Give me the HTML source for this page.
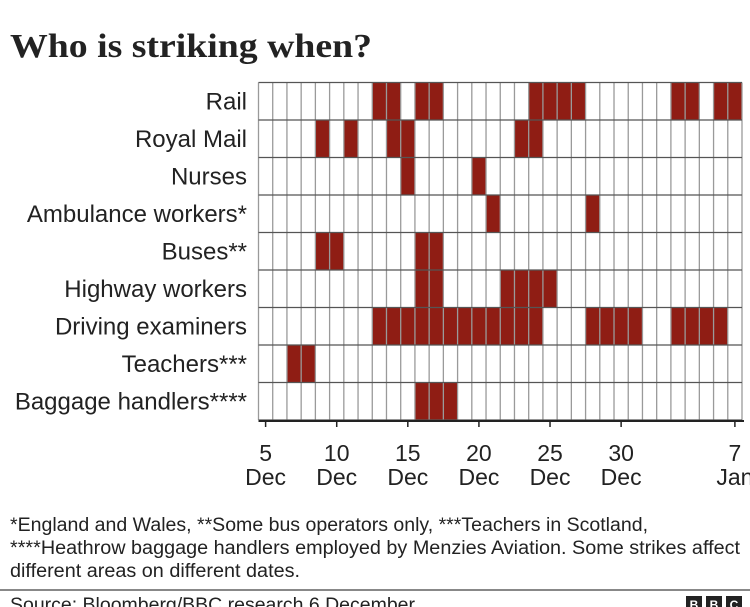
<!DOCTYPE html>
<html><head><meta charset="utf-8"><style>
html,body{margin:0;padding:0;background:#fff;width:750px;height:607px;overflow:hidden}
svg{display:block}
</style></head><body>
<svg id="chart" width="750" height="607" viewBox="0 0 750 607">
<text x="10" y="57" font-family="Liberation Serif, serif" font-weight="bold" font-size="34" fill="#222" textLength="362" lengthAdjust="spacingAndGlyphs">Who is striking when?</text>
<g id="labels"></g><g id="cells"></g><g id="grid"></g><g id="axis"></g>
<text x="10" y="531" font-family="Liberation Sans, sans-serif" font-size="19" fill="#222" textLength="638" lengthAdjust="spacingAndGlyphs">*England and Wales, **Some bus operators only, ***Teachers in Scotland,</text>
<text x="10" y="554" font-family="Liberation Sans, sans-serif" font-size="19" fill="#222" textLength="730" lengthAdjust="spacingAndGlyphs">****Heathrow baggage handlers employed by Menzies Aviation. Some strikes affect</text>
<text x="10" y="577" font-family="Liberation Sans, sans-serif" font-size="19" fill="#222" textLength="290" lengthAdjust="spacingAndGlyphs">different areas on different dates.</text>
<rect x="0" y="589" width="750" height="2" fill="#888"></rect>
<text x="10" y="611" font-family="Liberation Sans, sans-serif" font-size="19" fill="#222" textLength="405" lengthAdjust="spacingAndGlyphs">Source: Bloomberg/BBC research 6 December</text>
<g>
<rect x="686" y="596" width="16" height="16" fill="#222"/><rect x="706" y="596" width="16" height="16" fill="#222"/><rect x="726" y="596" width="16" height="16" fill="#222"/>
<text x="694" y="609" text-anchor="middle" font-family="Liberation Sans, sans-serif" font-weight="bold" font-size="12" fill="#fff">B</text>
<text x="714" y="609" text-anchor="middle" font-family="Liberation Sans, sans-serif" font-weight="bold" font-size="12" fill="#fff">B</text>
<text x="734" y="609" text-anchor="middle" font-family="Liberation Sans, sans-serif" font-weight="bold" font-size="12" fill="#fff">C</text>
</g>
</svg>
<script>
const categories = ["Rail","Royal Mail","Nurses","Ambulance workers*","Buses**","Highway workers","Driving examiners","Teachers***","Baggage handlers****"];
// strike days as day offsets from 5 Dec (0 = 5 Dec, 26 = 31 Dec, 27 = 1 Jan)
const rail = [8,9,11,12,19,20,21,22,29,30,32,33];
const royalMail = [4,6,9,10,18,19];
const nurses = [10,15];
const ambulance = [16,23];
const buses = [4,5,11,12];
const highway = [11,12,17,18,19,20];
const driving = [8,9,10,11,12,13,14,15,16,17,18,19,23,24,25,26,29,30,31,32];
const teachers = [2,3];
const baggage = [11,12,13];
const seriesDays = [rail,royalMail,nurses,ambulance,buses,highway,driving,teachers,baggage];
const dayCount = 34;
const tickDays = [0,5,10,15,20,25,33];
const tickNums = ["5","10","15","20","25","30","7"];
const tickMonths = ["Dec","Dec","Dec","Dec","Dec","Dec","Jan"];

const NS="http://www.w3.org/2000/svg";
const x0=258.5, x1=742, y0=82.5, y1=420;
const cw=(x1-x0)/dayCount, rh=(y1-y0)/categories.length;
const xCell=d=>x0+d*cw, xCenter=d=>x0+(d+0.5)*cw, yRow=i=>y0+i*rh;
function mk(tag,attrs,parent){const e=document.createElementNS(NS,tag);for(const k in attrs)e.setAttribute(k,attrs[k]);parent.appendChild(e);return e;}
const gL=document.getElementById('labels'),gC=document.getElementById('cells'),gG=document.getElementById('grid'),gA=document.getElementById('axis');
categories.forEach((c,i)=>{
  const t=mk('text',{x:247,y:yRow(i)+rh/2+8,'text-anchor':'end','font-family':'Liberation Sans, sans-serif','font-size':24,fill:'#222'},gL);
  
  
  t.textContent=c;
  seriesDays[i].forEach(d=>{
    const r=mk('rect',{x:xCell(d),y:yRow(i),width:cw,height:rh,fill:'#8f1d14'},gC);
    
    
  });
});
for(let d=0;d<=dayCount;d++){
  const l=mk('line',{x1:xCell(d),x2:xCell(d),y1:y0,y2:y1,stroke:'#9a9a9a','stroke-width':1.3},gG);
  
  
}
for(let i=0;i<=categories.length;i++){
  const l=mk('line',{x1:x0,x2:x1,y1:yRow(i),y2:yRow(i),stroke:'#555','stroke-width':1.3},gG);
  
  
}
const ax=mk('line',{x1:x0,x2:x1+2,y1:y1+1,y2:y1+1,stroke:'#222','stroke-width':2},gA);


tickDays.forEach((d,i)=>{
  const x=xCenter(d);
  const tk=mk('line',{x1:x,x2:x,y1:y1,y2:y1+7,stroke:'#222','stroke-width':1.5},gA);
  
  
  const t1=mk('text',{x:x,y:461,'text-anchor':'middle','font-family':'Liberation Sans, sans-serif','font-size':23,fill:'#222'},gA);
  
  
  t1.textContent=tickNums[i];
  const t2=mk('text',{x:x,y:485,'text-anchor':'middle','font-family':'Liberation Sans, sans-serif','font-size':23,fill:'#222'},gA);
  
  
  t2.textContent=tickMonths[i];
});
</script>
</body></html>
